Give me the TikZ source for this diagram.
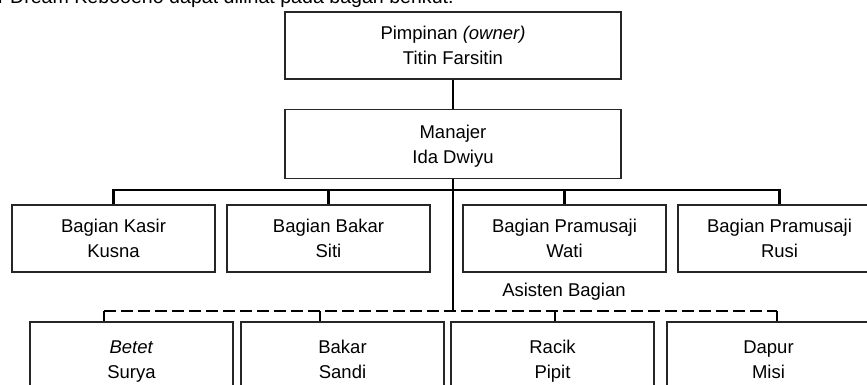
\documentclass[tikz,border=0pt]{standalone}
\usepackage{fontspec}
\setmainfont{Liberation Sans}
\usetikzlibrary{positioning}

\begin{document}
\begin{tikzpicture}[
            x=1pt, y=-1pt,
            font=\fontsize{18.5}{25}\selectfont,
            unit/.style={rectangle, draw=black!85, line width=1.6pt, minimum width=203pt, minimum height=67pt, text height=41pt, text depth=3pt, align=center, inner sep=0pt},
            head/.style={unit, minimum width=336pt},
            link/.style={line width=2.6pt},
            assist/.style={link, dash pattern=on 12pt off 5pt}
        ]
            \clip (0,0) rectangle (867,385);
            \node (intro) [anchor=base west, inner sep=0pt, font=\fontsize{19.6}{24}\selectfont] at (-2,4) {r Dream Kebooeno dapat dilihat pada bagan berikut.};

            \node (pimpinan) [head] at (453,45.5) {Pimpinan \textit{(owner)}\\Titin Farsitin};
            \node (manajer) [head, minimum height=69pt, below=29pt of pimpinan] {Manajer\\Ida Dwiyu};

            \node (kasir) [unit] at (113.5,238.5) {Bagian Kasir\\Kusna};
            \node (bakar) [unit, right=10.4pt of kasir] {Bagian Bakar\\Siti};
            \node (wati) [unit, right=31.4pt of bakar] {Bagian Pramusaji\\Wati};
            \node (rusi) [unit, right=10.4pt of wati] {Bagian Pramusaji\\Rusi};

            \node (asisten) at (564,292) {Asisten Bagian};

            \node (betet) [unit, minimum height=74pt] at (131.5,359) {\textit{Betet}\\Surya};
            \node (sandi) [unit, minimum height=74pt, right=6.4pt of betet] {Bakar\\Sandi};
            \node (pipit) [unit, minimum height=74pt, right=5.4pt of sandi] {Racik\\Pipit};
            \node (misi) [unit, minimum height=74pt, right=11.4pt of pipit] {Dapur\\Misi};

            \coordinate (bus) at (453,190);
            \coordinate (d1) at (104,311);
            \coordinate (d2) at (320,311);
            \coordinate (d3) at (555,311);
            \coordinate (d4) at (777,311);

            \draw[link] (pimpinan) -- (manajer);
            \draw[link] (manajer.south) -- (manajer.south |- d1);
            \draw[link] (kasir.north) |- (bus) -| (rusi.north);
            \draw[link] (bakar.north) -- (bakar.north |- bus);
            \draw[link] (wati.north) -- (wati.north |- bus);
            \draw[assist] (d1) -- (d4);
            \draw[link] (d1) -- (d1 |- betet.north);
            \draw[link] (d2) -- (d2 |- sandi.north);
            \draw[link] (d3) -- (d3 |- pipit.north);
            \draw[link] (d4) -- (d4 |- misi.north);
        \end{tikzpicture}
\end{document}
